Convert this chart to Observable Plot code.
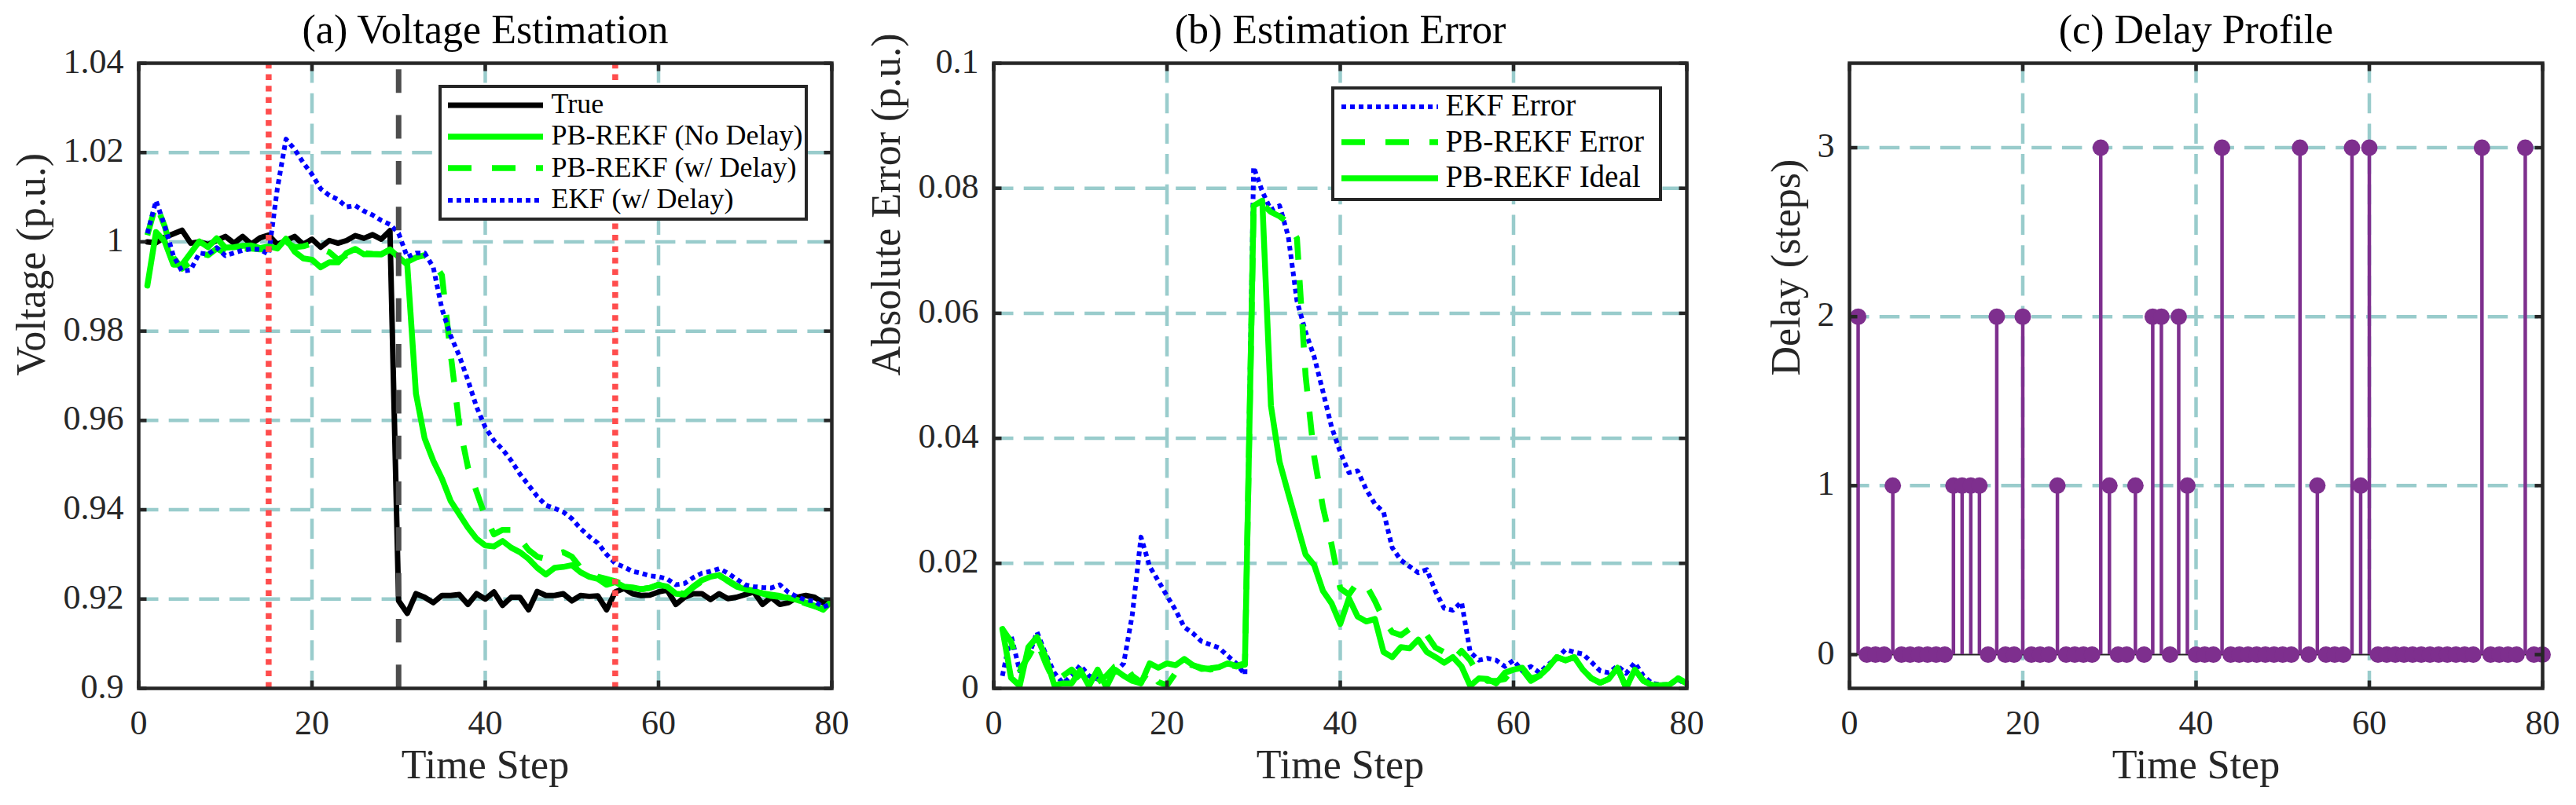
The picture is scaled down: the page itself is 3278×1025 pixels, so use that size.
<!DOCTYPE html>
<html>
<head>
<meta charset="utf-8">
<script src="https://cdn.jsdelivr.net/npm/d3@7"></script>
<script src="https://cdn.jsdelivr.net/npm/@observablehq/plot@0.6"></script>
<style>
  html, body { margin: 0; padding: 0; background: #fff; }
  #fig { position: relative; width: 3278px; height: 1025px; background: #fff;
         font-family: "Liberation Serif", "Times New Roman", serif; color: #262626; }
  .slot { position: absolute; top: 0; }
  .legend { position: absolute; box-sizing: border-box; background: #fff;
            border: 4.5px solid #262626; }
  .legend span { position: absolute; white-space: nowrap; line-height: 1; color: #000; }
  .legend svg { position: absolute; overflow: visible; }
</style>
</head>
<body>
<div id="fig"></div>
<script>
// ---------- data ----------
const timeSteps = d3.range(1, 81);

const voltTrue = [
  1.0000, 0.9998, 1.0010, 1.0018, 1.0026, 0.9997, 1.0000, 0.9994, 1.0003, 1.0012,
  0.9997, 1.0012, 0.9995, 1.0009, 1.0015, 0.9994, 1.0003, 1.0012, 0.9994, 1.0006,
  0.9988, 1.0003, 0.9997, 1.0003, 1.0014, 1.0008, 1.0016, 1.0006, 1.0025, 0.9196,
  0.9168, 0.9212, 0.9204, 0.9192, 0.9208, 0.9208, 0.9210, 0.9188, 0.9212, 0.9200,
  0.9216, 0.9186, 0.9204, 0.9204, 0.9176, 0.9217, 0.9208, 0.9208, 0.9212, 0.9196,
  0.9208, 0.9206, 0.9207, 0.9176, 0.9216, 0.9224, 0.9212, 0.9208, 0.9209, 0.9216,
  0.9220, 0.9188, 0.9204, 0.9212, 0.9212, 0.9199, 0.9212, 0.9201, 0.9204, 0.9210,
  0.9216, 0.9188, 0.9204, 0.9188, 0.9192, 0.9204, 0.9208, 0.9204, 0.9192, 0.9195
];
const voltNoDelay = [
  0.9902, 1.0022, 1.0001, 0.9949, 0.9949, 0.9975, 1.0001, 0.9988, 1.0008, 0.9987,
  0.9988, 0.9991, 0.9992, 0.9986, 0.9990, 0.9985, 1.0007, 0.9978, 0.9963, 0.9960,
  0.9943, 0.9954, 0.9954, 0.9975, 0.9984, 0.9972, 0.9972, 0.9972, 0.9983, 0.9966,
  0.9949, 0.9660, 0.9560, 0.9510, 0.9470, 0.9420, 0.9390, 0.9360, 0.9335, 0.9320,
  0.9318, 0.9330, 0.9315, 0.9305, 0.9290, 0.9270, 0.9255, 0.9270, 0.9272, 0.9276,
  0.9260, 0.9250, 0.9245, 0.9232, 0.9238, 0.9228, 0.9226, 0.9222, 0.9225, 0.9232,
  0.9228, 0.9212, 0.9210, 0.9228, 0.9242, 0.9250, 0.9254, 0.9240, 0.9228, 0.9222,
  0.9219, 0.9212, 0.9207, 0.9205, 0.9203, 0.9198, 0.9192, 0.9185, 0.9176, 0.9196
];
const voltWithDelay = [
  1.0015, 1.0085, 1.0035, 0.9965, 0.9940, 0.9955, 0.9975, 0.9970, 0.9985, 0.9975,
  0.9980, 0.9985, 0.9985, 0.9983, 0.9985, 0.9988, 1.0000, 0.9988, 0.9990, 0.9996,
  0.9985, 0.9977, 0.9960, 0.9970, 0.9980, 0.9975, 0.9973, 0.9972, 0.9982, 0.9966,
  0.9955, 0.9965, 0.9970, 0.9955, 0.9925, 0.9750, 0.9590, 0.9495, 0.9440, 0.9385,
  0.9345, 0.9355, 0.9355, 0.9335, 0.9310, 0.9295, 0.9290, 0.9300, 0.9305, 0.9295,
  0.9270, 0.9260, 0.9250, 0.9245, 0.9240, 0.9232, 0.9225, 0.9222, 0.9225, 0.9232,
  0.9226, 0.9215, 0.9212, 0.9226, 0.9240, 0.9248, 0.9252, 0.9242, 0.9230, 0.9222,
  0.9220, 0.9213, 0.9210, 0.9207, 0.9202, 0.9197, 0.9190, 0.9184, 0.9178, 0.9194
];
const voltEKF = [
  1.0019, 1.0092, 1.0036, 0.9969, 0.9934, 0.9937, 0.9975, 0.9972, 0.9987, 0.9969,
  0.9975, 0.9981, 0.9984, 0.9983, 0.9972, 1.0119, 1.0230, 1.0207, 1.0177, 1.0151,
  1.0119, 1.0104, 1.0095, 1.0078, 1.0081, 1.0069, 1.0060, 1.0048, 1.0039, 1.0019,
  0.9966, 0.9975, 0.9975, 0.9943, 0.9850, 0.9790, 0.9745, 0.9690, 0.9630, 0.9585,
  0.9555, 0.9535, 0.9510, 0.9480, 0.9455, 0.9430, 0.9410, 0.9403, 0.9395, 0.9380,
  0.9358, 0.9340, 0.9325, 0.9300, 0.9280, 0.9272, 0.9262, 0.9258, 0.9252, 0.9250,
  0.9245, 0.9232, 0.9235, 0.9248, 0.9258, 0.9262, 0.9268, 0.9258, 0.9245, 0.9232,
  0.9228, 0.9226, 0.9225, 0.9232, 0.9215, 0.9205, 0.9198, 0.9195, 0.9182, 0.9190
];

const errEKF = [
  0.0020, 0.0085, 0.0028, 0.0050, 0.0090, 0.0055, 0.0025, 0.0008, 0.0020, 0.0037,
  0.0020, 0.0015, 0.0008, 0.0025, 0.0040, 0.0118, 0.0242, 0.0195, 0.0172, 0.0148,
  0.0125, 0.0098, 0.0088, 0.0075, 0.0070, 0.0065, 0.0052, 0.0040, 0.0022, 0.0834,
  0.0795, 0.0765, 0.0772, 0.0723, 0.0620, 0.0570, 0.0530, 0.0475, 0.0418, 0.0378,
  0.0345, 0.0348, 0.0318, 0.0295, 0.0282, 0.0225, 0.0205, 0.0195, 0.0185, 0.0190,
  0.0155, 0.0128, 0.0125, 0.0138, 0.0058, 0.0045, 0.0048, 0.0045, 0.0035, 0.0045,
  0.0028, 0.0035, 0.0025, 0.0038, 0.0048, 0.0062, 0.0058, 0.0055, 0.0042, 0.0028,
  0.0025, 0.0036, 0.0024, 0.0041, 0.0020, 0.0008, 0.0006, 0.0006, 0.0014, 0.0006
];
const errDelay = [
  0.0095, 0.0075, 0.0030, 0.0050, 0.0075, 0.0040, 0.0010, 0.0020, 0.0030, 0.0015,
  0.0020, 0.0010, 0.0020, 0.0035, 0.0040, 0.0020, 0.0010, 0.0030, 0.0010, 0.0005,
  0.0025, 0.0040, 0.0037, 0.0033, 0.0030, 0.0033, 0.0038, 0.0035, 0.0038, 0.0770,
  0.0775, 0.0762, 0.0755, 0.0745, 0.0720, 0.0500, 0.0370, 0.0290, 0.0230, 0.0160,
  0.0150, 0.0170, 0.0165, 0.0140, 0.0110, 0.0090, 0.0085, 0.0095, 0.0095, 0.0085,
  0.0065, 0.0058, 0.0045, 0.0060, 0.0045, 0.0020, 0.0012, 0.0012, 0.0015, 0.0032,
  0.0030, 0.0012, 0.0020, 0.0033, 0.0050, 0.0045, 0.0050, 0.0030, 0.0016, 0.0009,
  0.0015, 0.0033, 0.0001, 0.0030, 0.0012, 0.0005, 0.0005, 0.0006, 0.0016, 0.0008
];
const errIdeal = [
  0.0095, 0.0017, 0.0004, 0.0066, 0.0082, 0.0050, 0.0005, 0.0008, 0.0008, 0.0029,
  0.0004, 0.0030, 0.0002, 0.0030, 0.0020, 0.0012, 0.0008, 0.0040, 0.0033, 0.0040,
  0.0037, 0.0047, 0.0037, 0.0031, 0.0032, 0.0034, 0.0040, 0.0036, 0.0040, 0.0772,
  0.0780, 0.0452, 0.0362, 0.0312, 0.0263, 0.0214, 0.0197, 0.0156, 0.0136, 0.0103,
  0.0144, 0.0115, 0.0107, 0.0111, 0.0058, 0.0050, 0.0066, 0.0064, 0.0078, 0.0058,
  0.0050, 0.0041, 0.0050, 0.0035, 0.0004, 0.0016, 0.0015, 0.0008, 0.0025, 0.0030,
  0.0033, 0.0016, 0.0020, 0.0033, 0.0050, 0.0045, 0.0050, 0.0030, 0.0016, 0.0009,
  0.0015, 0.0033, 0.0001, 0.0030, 0.0012, 0.0005, 0.0005, 0.0006, 0.0016, 0.0008
];

const delaySteps = [
  2, 0, 0, 0, 1, 0, 0, 0, 0, 0,
  0, 1, 1, 1, 1, 0, 2, 0, 0, 2,
  0, 0, 0, 1, 0, 0, 0, 0, 3, 1,
  0, 0, 1, 0, 2, 2, 0, 2, 1, 0,
  0, 0, 3, 0, 0, 0, 0, 0, 0, 0,
  0, 3, 0, 1, 0, 0, 0, 3, 1, 3,
  0, 0, 0, 0, 0, 0, 0, 0, 0, 0,
  0, 0, 3, 0, 0, 0, 0, 3, 0, 0
];

// tick values
const xTicks = [0, 20, 40, 60, 80];
const xGridTicks = [20, 40, 60];
const voltTicks = [0.9, 0.92, 0.94, 0.96, 0.98, 1, 1.02, 1.04];
const errTicks = [0, 0.02, 0.04, 0.06, 0.08, 0.1];
const delayTicks = [0, 1, 2, 3];

// event markers in panel (a)
const measurementWindow = [15, 55];
const faultStep = [30];

// ---------- styling ----------
const axisColor = "#262626";
const gridColor = "#99cccc";
const green = "#00ff00";
const blue = "#0000ff";
const purple = "#7e2f8e";
const tickFontSize = 44;
const labelFontSize = 52;

const tickShape = {draw(ctx, l) { ctx.moveTo(0, 0); ctx.lineTo(0, -l); }};

function boxTicks(xs, ys) {
  const o = {length: 10, shape: tickShape, anchor: "start", stroke: axisColor,
             strokeWidth: 4.5, strokeLinecap: "butt"};
  return [
    Plot.vector(xs, {x: d => d, frameAnchor: "bottom", rotate: 0, ...o}),
    Plot.vector(xs, {x: d => d, frameAnchor: "top", rotate: 180, ...o}),
    Plot.vector(ys, {y: d => d, frameAnchor: "left", rotate: 90, ...o}),
    Plot.vector(ys, {y: d => d, frameAnchor: "right", rotate: -90, ...o})
  ];
}

const fmt = d => String(+d.toFixed(4));

function grid(yGrid) {
  const g = {stroke: gridColor, strokeOpacity: 1, strokeWidth: 4.5, strokeDasharray: "25.5,13.2"};
  return [Plot.gridX(xGridTicks, g), Plot.gridY(yGrid, g)];
}

function decorations({xs, ys, title, yLabel, yLabelDx}) {
  return [
    Plot.frame({stroke: axisColor, strokeWidth: 4.5}),
    ...boxTicks(xs, ys),
    Plot.axisX(xs, {tickSize: 0, tickPadding: 27, fontSize: tickFontSize, tickFormat: fmt, label: null}),
    Plot.axisY(ys, {tickSize: 0, tickPadding: 19, fontSize: tickFontSize, tickFormat: fmt, label: null, dy: -2}),
    Plot.text([title], {frameAnchor: "top", dy: -26, lineAnchor: "bottom", fontSize: labelFontSize, fill: "#000"}),
    Plot.text(["Time Step"], {frameAnchor: "bottom", dy: 114, lineAnchor: "bottom", fontSize: labelFontSize, fill: axisColor}),
    Plot.text([yLabel], {frameAnchor: "left", dx: yLabelDx, rotate: -90, lineAnchor: "middle", fontSize: labelFontSize, fill: axisColor})
  ];
}

const baseStyle = {fontFamily: '"Liberation Serif", "Times New Roman", serif', color: axisColor,
                   background: "transparent", overflow: "visible"};

const at = () => (d, i) => timeSteps[i];

// ---------- panel (a) ----------
const plotA = Plot.plot({
  width: 1100, height: 1025,
  marginLeft: 176, marginRight: 42, marginTop: 80, marginBottom: 149,
  style: baseStyle,
  x: {domain: [0, 80]},
  y: {domain: [0.9, 1.04]},
  marks: [
    ...grid(voltTicks.slice(1, -1)),
    Plot.line(voltTrue, {x: at(), y: d => d, stroke: "#000", strokeWidth: 7, clip: true}),
    Plot.line(voltNoDelay, {x: at(), y: d => d, stroke: green, strokeWidth: 7.5, clip: true}),
    Plot.line(voltWithDelay, {x: at(), y: d => d, stroke: green, strokeWidth: 7.5, strokeDasharray: "30,26", strokeLinecap: "butt", clip: true}),
    Plot.line(voltEKF, {x: at(), y: d => d, stroke: blue, strokeWidth: 6, strokeDasharray: "6,5", strokeLinecap: "butt", clip: true}),
    Plot.ruleX(measurementWindow, {stroke: "#ff4d4d", strokeWidth: 7.5, strokeDasharray: "7.3,7.3"}),
    Plot.ruleX(faultStep, {stroke: "#4d4d4d", strokeWidth: 7, strokeDasharray: "30,28.3", strokeDashoffset: 50}),
    ...decorations({xs: xTicks, ys: voltTicks, title: "(a) Voltage Estimation", yLabel: "Voltage (p.u.)", yLabelDx: -136})
  ]
});

// ---------- panel (b) ----------
const plotB = Plot.plot({
  width: 1100, height: 1025,
  marginLeft: 164, marginRight: 54, marginTop: 80, marginBottom: 149,
  style: baseStyle,
  x: {domain: [0, 80]},
  y: {domain: [0, 0.1]},
  marks: [
    ...grid(errTicks.slice(1, -1)),
    Plot.line(errEKF, {x: at(), y: d => d, stroke: blue, strokeWidth: 6, strokeDasharray: "6,5", strokeLinecap: "butt", clip: true}),
    Plot.line(errDelay, {x: at(), y: d => d, stroke: green, strokeWidth: 7.5, strokeDasharray: "30,26", strokeLinecap: "butt", clip: true}),
    Plot.line(errIdeal, {x: at(), y: d => d, stroke: green, strokeWidth: 7.5, clip: true}),
    ...decorations({xs: xTicks, ys: errTicks, title: "(b) Estimation Error", yLabel: "Absolute Error (p.u.)", yLabelDx: -136})
  ]
});

// ---------- panel (c) ----------
const plotC = Plot.plot({
  width: 1078, height: 1025,
  marginLeft: 153, marginRight: 43, marginTop: 80, marginBottom: 149,
  style: baseStyle,
  x: {domain: [0, 80]},
  y: {domain: [-0.2, 3.5]},
  marks: [
    ...grid(delayTicks.slice(1)),
    Plot.ruleY([0], {stroke: axisColor, strokeWidth: 2}),
    Plot.ruleX(delaySteps, {x: at(), y1: 0, y2: d => d, stroke: purple, strokeWidth: 4.5}),
    Plot.dot(delaySteps, {x: at(), y: d => d, r: 10.5, fill: purple, stroke: "none"}),
    ...decorations({xs: xTicks, ys: delayTicks, title: "(c) Delay Profile", yLabel: "Delay (steps)", yLabelDx: -80})
  ]
});

// ---------- assemble ----------
const fig = document.getElementById("fig");
[[plotA, 0], [plotB, 1100], [plotC, 2200]].forEach(([p, left]) => {
  const slot = document.createElement("div");
  slot.className = "slot";
  slot.style.left = left + "px";
  slot.appendChild(p);
  fig.appendChild(slot);
});

// ---------- legends ----------
const legendA = {
  left: 558, top: 108, width: 470, height: 173,
  firstRow: 26, rowGap: 40.4, lineX1: 12, lineX2: 133, textX: 144, fontSize: 36,
  items: [
    {label: "True", stroke: "#000", width: 7, dash: null},
    {label: "PB-REKF (No Delay)", stroke: green, width: 7.5, dash: null},
    {label: "PB-REKF (w/ Delay)", stroke: green, width: 7.5, dash: "30,26"},
    {label: "EKF (w/ Delay)", stroke: blue, width: 6, dash: "6,5"}
  ]
};
const legendB = {
  left: 1694, top: 110, width: 421, height: 146,
  firstRow: 26, rowGap: 45.5, lineX1: 13, lineX2: 136, textX: 146, fontSize: 39,
  items: [
    {label: "EKF Error", stroke: blue, width: 6, dash: "6,5"},
    {label: "PB-REKF Error", stroke: green, width: 7.5, dash: "30,26"},
    {label: "PB-REKF Ideal", stroke: green, width: 7.5, dash: null}
  ]
};

function drawLegend(L) {
  const box = document.createElement("div");
  box.className = "legend";
  Object.assign(box.style, {left: L.left + "px", top: L.top + "px", width: L.width + "px", height: L.height + "px"});
  const b = 4.5;
  const ns = "http://www.w3.org/2000/svg";
  L.items.forEach((it, i) => {
    const cy = L.firstRow + i * L.rowGap - b;
    const svg = document.createElementNS(ns, "svg");
    svg.setAttribute("width", L.lineX2 - L.lineX1);
    svg.setAttribute("height", 20);
    svg.style.left = (L.lineX1 - b) + "px";
    svg.style.top = (cy - 10) + "px";
    const ln = document.createElementNS(ns, "line");
    ln.setAttribute("x1", 0); ln.setAttribute("x2", L.lineX2 - L.lineX1);
    ln.setAttribute("y1", 10); ln.setAttribute("y2", 10);
    ln.setAttribute("stroke", it.stroke);
    ln.setAttribute("stroke-width", it.width);
    if (it.dash) ln.setAttribute("stroke-dasharray", it.dash);
    svg.appendChild(ln);
    box.appendChild(svg);
    const sp = document.createElement("span");
    sp.textContent = it.label;
    Object.assign(sp.style, {left: (L.textX - b) + "px", top: (cy - L.fontSize * 0.55) + "px", fontSize: L.fontSize + "px"});
    box.appendChild(sp);
  });
  fig.appendChild(box);
}
drawLegend(legendA);
drawLegend(legendB);
</script>
</body>
</html>
